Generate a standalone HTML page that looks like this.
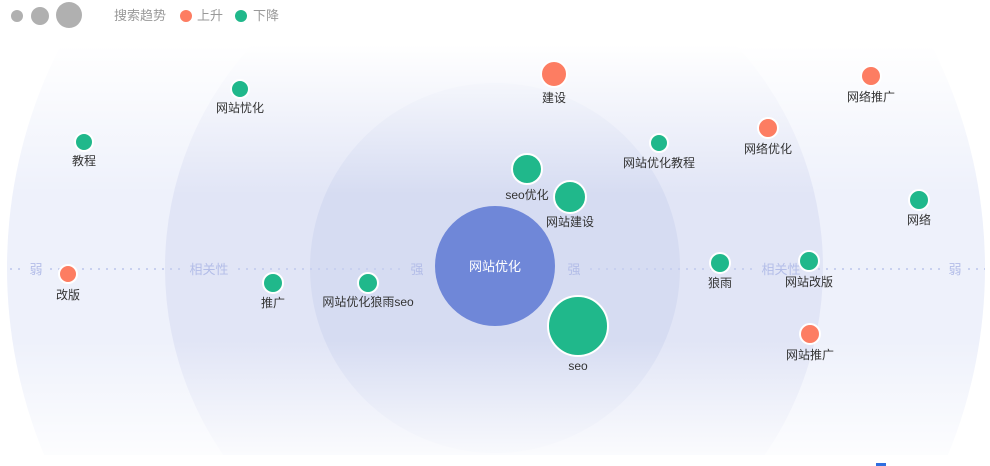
<!DOCTYPE html>
<html><head><meta charset="utf-8"><style>
html,body{margin:0;padding:0;background:#fff;width:990px;height:466px;overflow:hidden}
svg{display:block}
svg text{font-family:"Liberation Sans","Noto Sans CJK SC",sans-serif}
</style></head><body>
<svg width="990" height="466" viewBox="0 0 990 466" xmlns="http://www.w3.org/2000/svg">
<defs>
<clipPath id="c"><rect x="0" y="45" width="990" height="410"/></clipPath>
<linearGradient id="top" x1="0" y1="0" x2="0" y2="1">
<stop offset="0" stop-color="#fff" stop-opacity="1"/>
<stop offset="1" stop-color="#fff" stop-opacity="0"/>
</linearGradient>
<linearGradient id="bot" x1="0" y1="0" x2="0" y2="1">
<stop offset="0" stop-color="#fff" stop-opacity="0"/>
<stop offset="1" stop-color="#fff" stop-opacity="0.85"/>
</linearGradient>
</defs>
<g clip-path="url(#c)">
<circle cx="496" cy="268" r="489" fill="#eef1fb"/>
<circle cx="494" cy="268" r="329" fill="#e1e5f6"/>
<circle cx="495" cy="268" r="185" fill="#d6dcf2"/>
<rect x="0" y="45" width="990" height="150" fill="url(#top)"/>
<rect x="0" y="340" width="990" height="115" fill="url(#bot)"/>
</g>
<g stroke="#c8d0ef" stroke-width="2" stroke-dasharray="2 6">
<line x1="10" y1="269" x2="24" y2="269"/>
<line x1="50" y1="269" x2="182" y2="269"/>
<line x1="238" y1="269" x2="404" y2="269"/>
<line x1="590" y1="269" x2="754" y2="269"/>
<line x1="810" y1="269" x2="940" y2="269"/>
<line x1="968" y1="269" x2="985" y2="269"/>
</g>
<g font-size="13" fill="#b3bde8" text-anchor="middle">
<text x="36" y="274">弱</text>
<text x="209" y="274">相关性</text>
<text x="417" y="274">强</text>
<text x="574" y="274">强</text>
<text x="781" y="274">相关性</text>
<text x="955" y="274">弱</text>
</g>
<circle cx="495" cy="266" r="60" fill="#6f87d8"/>
<text x="495" y="271" font-size="13" fill="#fff" text-anchor="middle">网站优化</text>
<g stroke="#fff" stroke-width="2">
<circle cx="240" cy="89" r="9" fill="#20b88b"/>
<circle cx="84" cy="142" r="9" fill="#20b88b"/>
<circle cx="554" cy="74" r="13" fill="#fd7d62"/>
<circle cx="871" cy="76" r="10" fill="#fd7d62"/>
<circle cx="659" cy="143" r="9" fill="#20b88b"/>
<circle cx="768" cy="128" r="10" fill="#fd7d62"/>
<circle cx="527" cy="169" r="15" fill="#20b88b"/>
<circle cx="570" cy="197" r="16" fill="#20b88b"/>
<circle cx="919" cy="200" r="10" fill="#20b88b"/>
<circle cx="68" cy="274" r="9" fill="#fd7d62"/>
<circle cx="273" cy="283" r="10" fill="#20b88b"/>
<circle cx="368" cy="283" r="10" fill="#20b88b"/>
<circle cx="720" cy="263" r="10" fill="#20b88b"/>
<circle cx="809" cy="261" r="10" fill="#20b88b"/>
<circle cx="810" cy="334" r="10" fill="#fd7d62"/>
<circle cx="578" cy="326" r="30" fill="#20b88b"/>
</g>
<g font-size="12" fill="#333" text-anchor="middle">
<text x="240" y="112">网站忧化</text>
<text x="84" y="165">教程</text>
<text x="554" y="102">建设</text>
<text x="871" y="101">网络推广</text>
<text x="659" y="167">网站优化教程</text>
<text x="768" y="153">网络优化</text>
<text x="527" y="199">seo优化</text>
<text x="570" y="226">网站建设</text>
<text x="919" y="224">网络</text>
<text x="68" y="299">改版</text>
<text x="273" y="307">推广</text>
<text x="368" y="306">网站优化狼雨seo</text>
<text x="720" y="287">狼雨</text>
<text x="809" y="286">网站改版</text>
<text x="810" y="359">网站推广</text>
<text x="578" y="370">seo</text>
</g>
<circle cx="17" cy="16" r="6" fill="#b0b0b0"/>
<circle cx="40" cy="16" r="9" fill="#b0b0b0"/>
<circle cx="69" cy="15" r="13" fill="#b0b0b0"/>
<text x="114" y="20" font-size="13" fill="#999">搜索趋势</text>
<circle cx="186" cy="16" r="6" fill="#fd7d62"/>
<text x="197" y="20" font-size="13" fill="#999">上升</text>
<circle cx="241" cy="16" r="6" fill="#20b88b"/>
<text x="253" y="20" font-size="13" fill="#999">下降</text>
<rect x="876" y="463" width="10" height="3" fill="#2f6fe0"/>
</svg>
</body></html>
